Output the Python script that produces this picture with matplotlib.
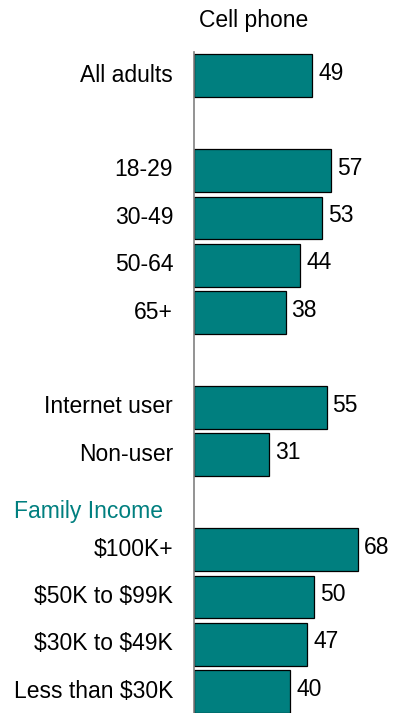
#!/usr/bin/env python3

import numpy as np
import matplotlib.pyplot as plt
from matplotlib.transforms import blended_transform_factory, ScaledTranslation

plt.rcParams['font.family'] = ['Liberation Sans', 'DejaVu Sans']

# Share of adults in each group who own a cell phone (%)
groups = ["All adults", "18-29", "30-49", "50-64", "65+",
          "Internet user", "Non-user",
          r"\$100K+", r"\$50K to \$99K", r"\$30K to \$49K", r"Less than \$30K"]
cell_phone = [49, 57, 53, 44, 38, 55, 31, 68, 50, 47, 40]
# row slots, with blank rows between the blocks
rows = [0, 2, 3, 4, 5, 7, 8, 10, 11, 12, 13]

TEAL = "#007f7f"
FS = 16.5

W, H = 393, 713
fig = plt.figure(figsize=(W / 100, H / 100), dpi=100)
ax = fig.add_axes([194 / W, 0, (W - 194) / W, 661 / H])

ax.barh(rows, cell_phone, height=0.9, color=TEAL, edgecolor="black", linewidth=0.9)

for y, v in zip(rows, cell_phone):
    ax.text(v + 2.5, y - 0.05, str(v), va="center", ha="left", fontsize=FS)

ax.set_xlim(0, 82.6)
ax.set_ylim(13.45, -0.5)
ax.set_yticks(rows)
ax.set_yticklabels(groups, fontsize=FS)
ax.tick_params(axis="y", length=0, pad=15)
ax.set_xticks([])

# nudge the row labels up a little so they sit level with the bars
nudge = ScaledTranslation(0, 3 / 100, fig.dpi_scale_trans)
for lbl in ax.get_yticklabels():
    lbl.set_transform(lbl.get_transform() + nudge)

for side in ["top", "right", "bottom"]:
    ax.spines[side].set_visible(False)
ax.spines["left"].set_color("#808080")
ax.spines["left"].set_linewidth(1.2)

# section heading for the income rows
trans = blended_transform_factory(fig.transFigure, ax.transData)
ax.text(14 / W, 9.2, "Family Income", transform=trans, color=TEAL,
        fontsize=FS, va="center", ha="left", clip_on=False)

fig.text(254 / W, 1 - 27 / H, "Cell phone", ha="center", va="baseline", fontsize=FS)

fig.savefig("out.png", dpi=100)
